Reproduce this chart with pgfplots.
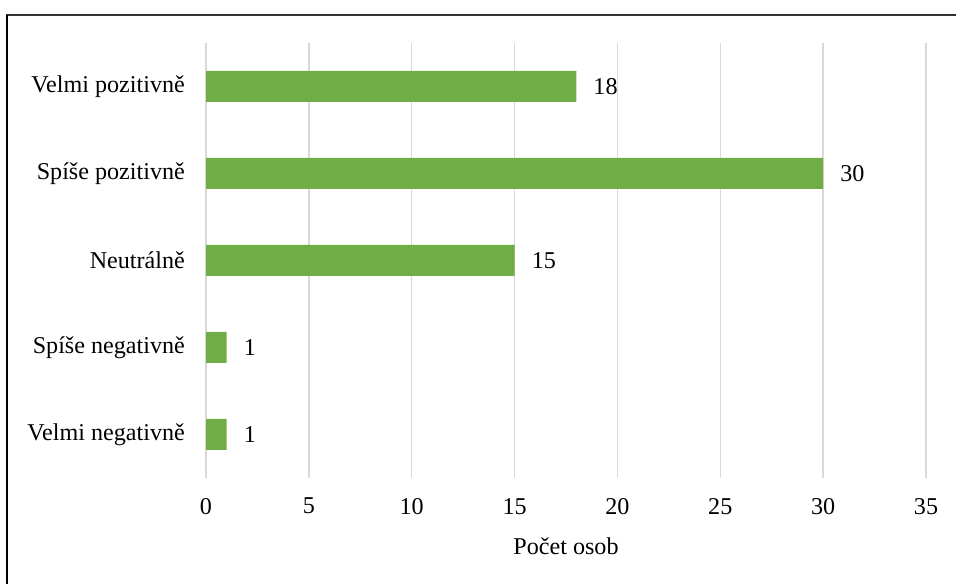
\documentclass[border=0pt]{standalone}
\usepackage{pgfplots}
\pgfplotsset{compat=1.18}
\usepackage{fontspec}
\setmainfont{Liberation Serif}
\definecolor{bargreen}{HTML}{70AD47}
\definecolor{gridgray}{HTML}{D9D9D9}
\begin{document}
\fontsize{24.2}{29}\selectfont
\begin{tikzpicture}[x=1bp,y=1bp]
\useasboundingbox (0,0) rectangle (956,584);
\draw[line width=2bp, color=black!80] (6,569) -- (956,569);
\draw[line width=2bp, color=black] (7,569) -- (7,0);
\begin{axis}[
  at={(206bp,106bp)}, anchor=south west,
  scale only axis,
  width=720bp, height=435bp,
  xbar, bar width=31bp,
  xmin=0, xmax=35,
  ymin=-0.5, ymax=4.5,
  xtick={0,5,...,35},
  ytick={0,1,2,3,4},
  yticklabels={Velmi negativně, Spíše negativně, Neutrálně\hspace{0.3em}, Spíše pozitivně, Velmi pozitivně\hspace{0.22em}},
  xmajorgrids, grid style={gridgray, line width=1.5bp},
  axis line style={draw=none},
  major tick length=0pt,
  /pgf/number format/assume math mode=true,
  tick label style={font=\fontsize{24.2}{29}\selectfont},
  xticklabel style={anchor=north, inner sep=0pt, yshift=-20bp},
  yticklabel style={anchor=east, inner sep=0pt, xshift=-21bp},
  xlabel={Počet osob},
  xlabel style={at={(axis description cs:0.5,0)}, anchor=north, inner sep=0pt, yshift=-60bp, font=\fontsize{24.2}{29}\selectfont},
  nodes near coords,
  nodes near coords style={anchor=west, inner sep=0pt, xshift=17bp, font=\fontsize{24.2}{29}\selectfont, color=black},
  clip=false,
]
\addplot[fill=bargreen, draw=none] coordinates {(1,0) (1,1) (15,2) (30,3) (18,4)};
\end{axis}
\end{tikzpicture}
\end{document}
